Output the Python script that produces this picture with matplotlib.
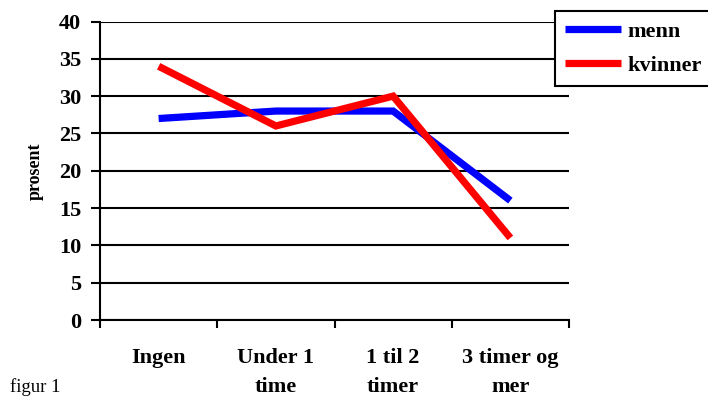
import matplotlib
matplotlib.use("Agg")
import matplotlib.pyplot as plt
from matplotlib.ticker import FixedLocator, NullFormatter

# Data: time use per category, percent
categories = ["Ingen", "Under 1\ntime", "1 til 2\ntimer", "3 timer og\nmer"]
menn = [27, 28, 28, 16]
kvinner = [34, 26, 30, 11]
y_ticks = [0, 5, 10, 15, 20, 25, 30, 35, 40]

plt.rcParams["font.family"] = ["Liberation Serif", "DejaVu Serif"]

fig = plt.figure(figsize=(7.08, 3.96), dpi=100)
ax = fig.add_axes([100 / 708, 1 - 320 / 396, 469 / 708, 298.5 / 396])

x = list(range(len(categories)))
ax.plot(x, menn, color="#0000ff", lw=5.2, solid_joinstyle="miter", solid_capstyle="butt",
        label="menn", zorder=3)
ax.plot(x, kvinner, color="#ff0000", lw=5.2, solid_joinstyle="miter", solid_capstyle="butt",
        label="kvinner", zorder=4)

ax.set_xlim(-0.5, len(categories) - 0.5)
ax.set_ylim(0, 40)

# horizontal grid lines
ax.set_yticks(y_ticks)
ax.yaxis.grid(True, color="black", lw=1.5)
ax.set_axisbelow(True)
ax.set_yticklabels([str(v) for v in y_ticks], fontsize=16, fontweight="bold")
ax.tick_params(axis="y", length=6.5, width=1.5, pad=7)

# category labels centered, tick marks between categories
ax.set_xticks(x)
ax.set_xticklabels(categories, fontsize=16, fontweight="bold", va="top", linespacing=1.6)
ax.tick_params(axis="x", which="major", length=0, pad=20)
ax.xaxis.set_minor_locator(FixedLocator([i - 0.5 for i in range(len(categories) + 1)]))
ax.xaxis.set_minor_formatter(NullFormatter())
ax.tick_params(axis="x", which="minor", length=6, width=1.5, direction="out")

for side in ["top", "right"]:
    ax.spines[side].set_visible(False)
for side in ["left", "bottom"]:
    ax.spines[side].set_linewidth(1.5)

ax.yaxis.set_label_coords(-65 / 469, 0.5)
ax.set_ylabel("prosent", fontsize=13, fontweight="bold", va="center")

leg = fig.legend(loc="upper left", bbox_to_anchor=(555 / 708, 1 - 11 / 396),
                 frameon=True, fancybox=False, edgecolor="black", framealpha=1,
                 prop={"size": 16, "weight": "bold"}, handlelength=2.5,
                 handletextpad=0.3, borderpad=0.45, labelspacing=0.62, borderaxespad=0)
leg.get_frame().set_linewidth(1.5)

fig.text(10 / 708, 1 - 387 / 396, "figur 1", fontsize=13.5, va="center", ha="left")

fig.savefig("out.png", dpi=100)
